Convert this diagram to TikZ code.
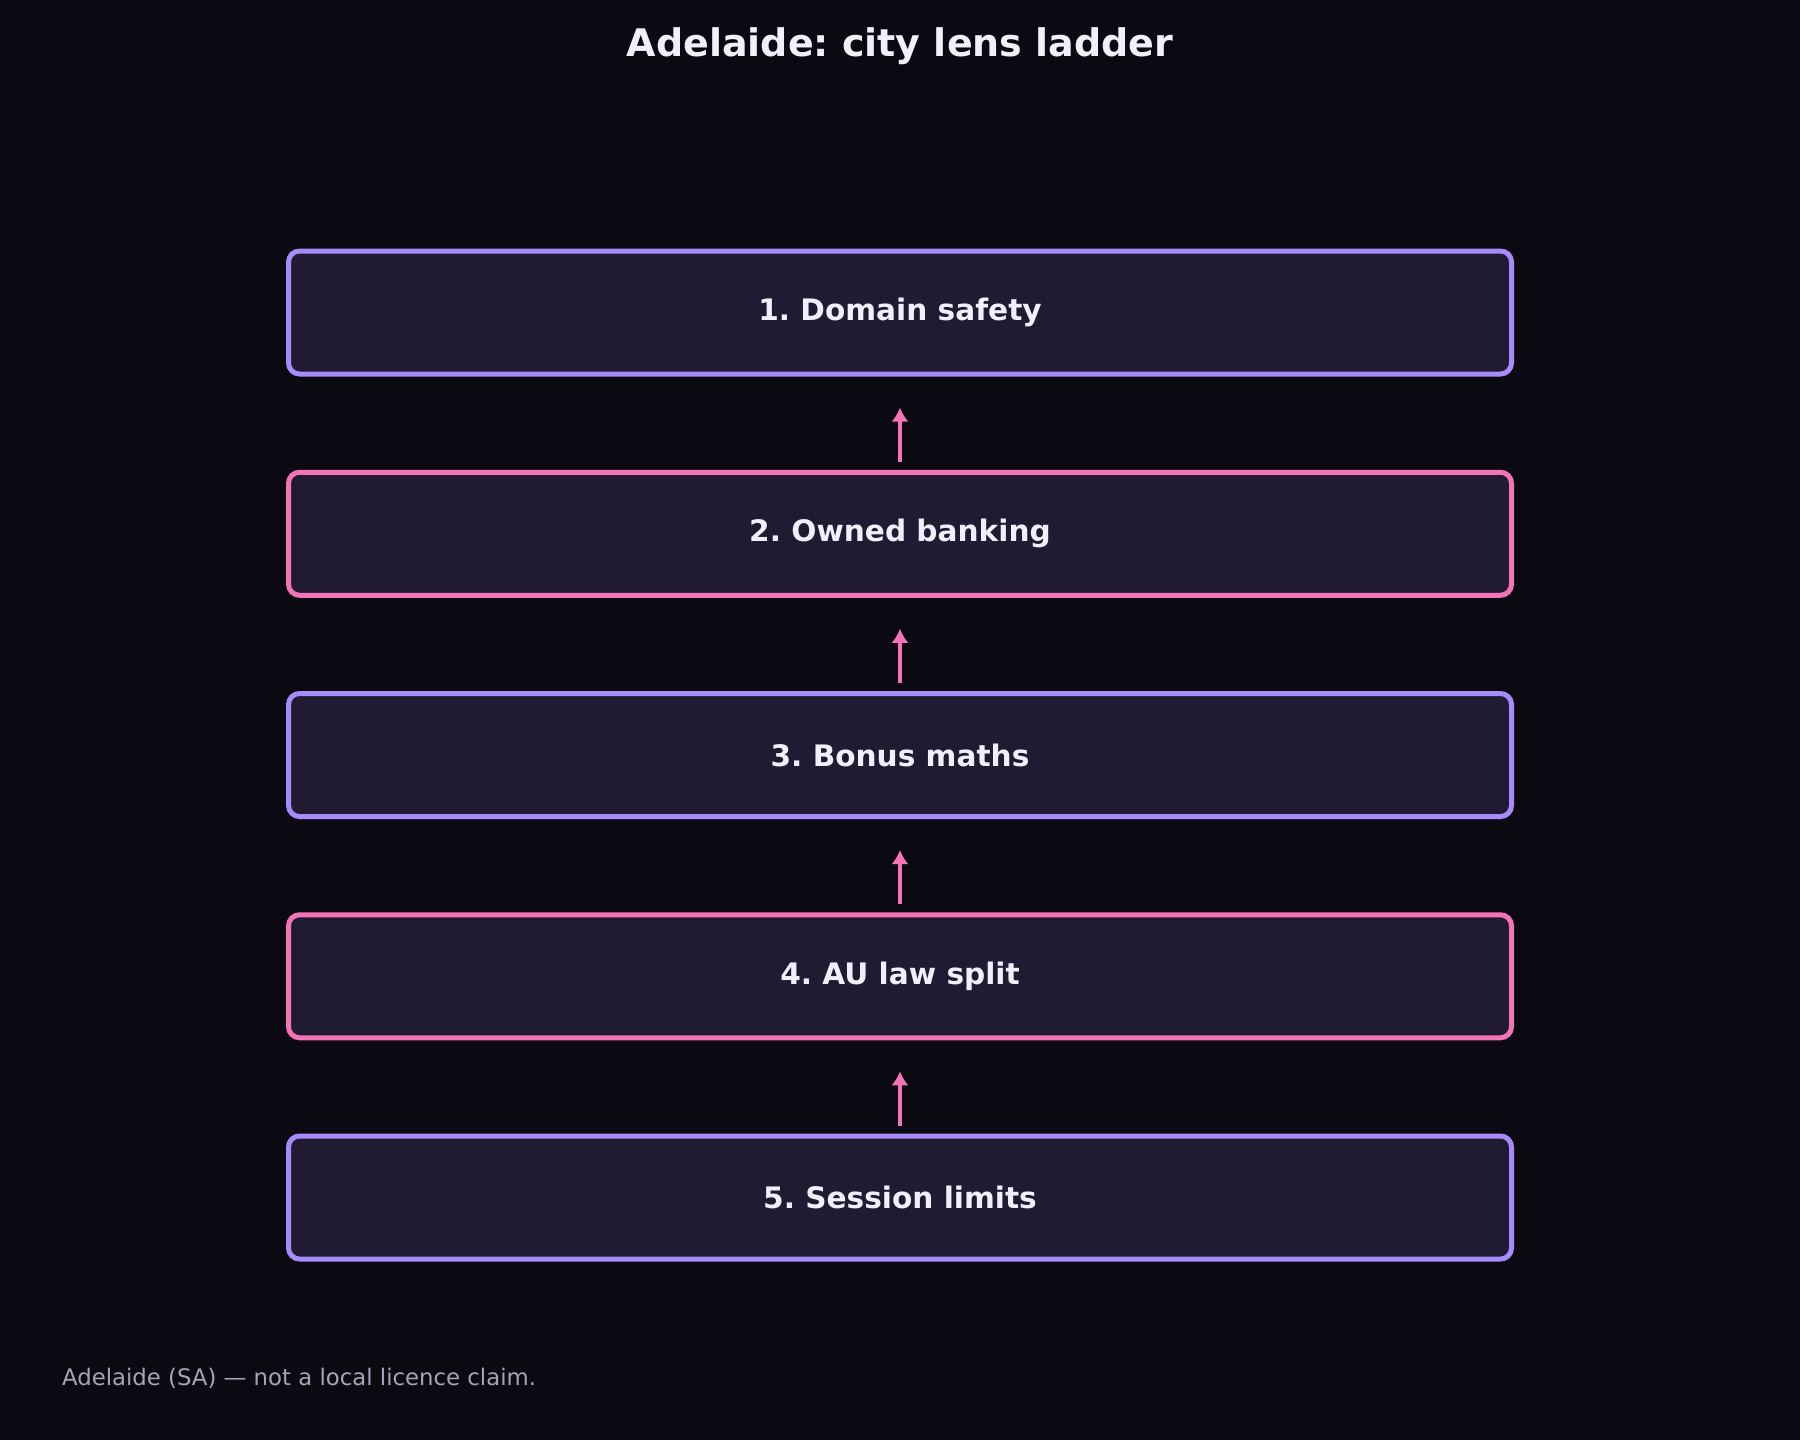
\documentclass[tikz,border=0pt]{standalone}
\usepackage{fontspec}
\setmainfont{DejaVu Sans}
\usetikzlibrary{arrows.meta}
\frenchspacing
\definecolor{bgcol}{HTML}{0B0A12}
\definecolor{boxfill}{HTML}{211A33}
\definecolor{lilac}{HTML}{A78BFA}
\definecolor{pinky}{HTML}{F472B6}
\definecolor{txtcol}{HTML}{F3EEFC}
\definecolor{footcol}{HTML}{A8A2B8}
\tikzset{
  stepbox/.style={rectangle, rounded corners=5.5pt, fill=boxfill, line width=2.5pt,
    minimum width=611.5pt, minimum height=61.5pt, text=txtcol,
    font=\bfseries\fontsize{14.8pt}{17pt}\selectfont},
  lilacbox/.style={stepbox, draw=lilac},
  pinkbox/.style={stepbox, draw=pinky},
  uparrow/.style={draw=pinky, line width=2.3pt, -{Latex[length=7pt,width=8.5pt]},
    shorten <=4pt, shorten >=15.5pt}
}
\begin{document}
\begin{tikzpicture}[x=0.5pt,y=-0.5pt]
\useasboundingbox[fill=bgcol] (0,0) rectangle (1800,1440);
\node[text=txtcol, font=\bfseries\fontsize{19pt}{22pt}\selectfont] (title) at (900,46) {Adelaide: city lens ladder};
\node[lilacbox] (b1) at (900,312.5) {1. Domain safety};
\node[pinkbox]  (b2) at (900,533.75) {2. Owned banking};
\node[lilacbox] (b3) at (900,755) {3. Bonus maths};
\node[pinkbox]  (b4) at (900,976.25) {4. AU law split};
\node[lilacbox] (b5) at (900,1197.5) {5. Session limits};
\draw[uparrow] (b2.north) -- (b1.south);
\draw[uparrow] (b3.north) -- (b2.south);
\draw[uparrow] (b4.north) -- (b3.south);
\draw[uparrow] (b5.north) -- (b4.south);
\node[anchor=west, text=footcol, font=\fontsize{11.4pt}{13pt}\selectfont] (foot) at (55,1378) {Adelaide (SA) — not a local licence claim.};
\end{tikzpicture}
\end{document}
